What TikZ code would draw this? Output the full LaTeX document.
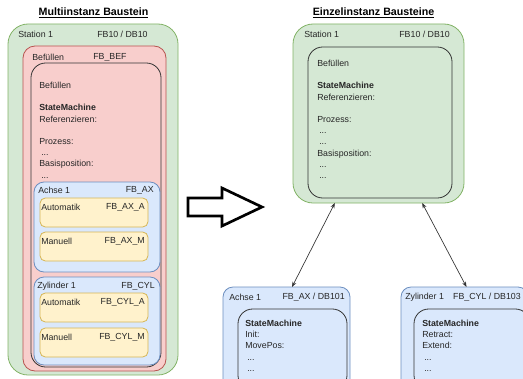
\documentclass[tikz,border=0pt]{standalone}
\usepackage{fontspec}
\setmainfont{Liberation Sans}
\usetikzlibrary{fit,calc,arrows.meta}
\definecolor{grfill}{HTML}{D5E8D4}
\definecolor{grline}{HTML}{82B366}
\definecolor{rdfill}{HTML}{F8CECC}
\definecolor{rdline}{HTML}{B85450}
\definecolor{blfill}{HTML}{DAE8FC}
\definecolor{blline}{HTML}{6C8EBF}
\definecolor{ylfill}{HTML}{FFF2CC}
\definecolor{ylline}{HTML}{D6B656}
\tikzset{box/.style={inner sep=0pt,outer sep=0pt,line width=0.6pt},
	station/.style={box,draw=grline,fill=grfill,rounded corners=15pt},
	module/.style={box,draw=rdline,fill=rdfill,rounded corners=9pt},
	unit/.style={box,draw=blline,fill=blfill,rounded corners=7.5pt},
	mode/.style={box,draw=ylline,fill=ylfill,rounded corners=4pt},
	frame/.style={box,draw=black!80,rounded corners=11pt},
	lbl/.style={font=\fontsize{6.6}{8.4}\selectfont,text=black!85,inner sep=0pt},
	txt/.style={lbl,align=left,anchor=north west},
	title/.style={font=\bfseries\fontsize{8}{9.6}\selectfont,inner sep=0pt},
	link/.style={draw=black!80,line width=0.5pt,{Stealth[length=4pt,width=3pt]}-{Stealth[length=4pt,width=3pt]}}}

\begin{document}
\begin{tikzpicture}[x=0.75pt,y=-0.75pt]
\useasboundingbox (0,0) rectangle (523,378);
\clip (0,0) rectangle (523,378);

% Multiinstanz
\node[title] (t1) at (93.5,13) {\underline{Multiinstanz Baustein}};
\node[station,fit={(8,24) (178,375)}] (st1) {};
\node[lbl,anchor=west] (st1a) at (18,34) {Station 1};
\node[lbl,anchor=west] (st1b) at (97,34) {FB10 / DB10};
\node[module,fit={(23,46) (166,371)}] (bef) {};
\node[lbl,anchor=west] (befa) at (32,57) {Befüllen};
\node[lbl,anchor=west] (befb) at (93,57) {FB\_BEF};
\node[frame,fit={(31,63) (161,367)}] (frm1) {};
\node[txt] (txt1) at (39,81.8) {Befüllen\\[8.4pt]\textbf{StateMachine}\\Referenzieren:\\[8.4pt]Prozess:\\\hspace{1.5pt}...\\Basisposition:\\\hspace{1.5pt}...};

\node[unit,fit={(34,182) (160,272)}] (ax) {};
\node[lbl,anchor=west] (axa) at (38,190) {Achse 1};
\node[lbl,anchor=east] (axb) at (154,190) {FB\_AX};
\node[unit,fit={(34,277) (160,365)}] (cyl) {};
\node[lbl,anchor=west] (cyla) at (37,286) {Zylinder 1};
\node[lbl,anchor=east] (cylb) at (155,286) {FB\_CYL};
\foreach \nm/\y/\md/\fb in {axauto/198/Automatik/FB\_AX\_A,axman/232/Manuell/FB\_AX\_M,
	cylauto/293/Automatik/FB\_CYL\_A,cylman/328/Manuell/FB\_CYL\_M} {
	\node[mode,fit={(40,\y) (148,\y+29)}] (\nm) {};
	\node[lbl,anchor=west] (\nm-a) at (41,\y+9) {\md};
	\node[lbl,anchor=east] (\nm-b) at (145,\y+9) {\fb};
};

% Pfeil
\draw[line width=2pt,miter limit=4] (188,198) -- (222,198) -- (222,188) -- (262,207)
	-- (222,226) -- (222,216) -- (188,216) -- cycle;

% Einzelinstanz
\node[title] (t2) at (373.5,13) {\underline{Einzelinstanz Bausteine}};
\node[station,fit={(293,24) (464,203)}] (st2) {};
\node[lbl,anchor=west] (st2a) at (304,34) {Station 1};
\node[lbl,anchor=east] (st2b) at (450,34) {FB10 / DB10};
\node[frame,fit={(308,47) (452,198)}] (frm2) {};
\node[txt] (txt2) at (317,59.8) {Befüllen\\[8.4pt]\textbf{StateMachine}\\Referenzieren:\\[8.4pt]Prozess:\\\hspace{1.5pt}...\\\hspace{1.5pt}...\\Basisposition:\\\hspace{1.5pt}...\\\hspace{1.5pt}...};

\node[unit,fit={(223,287) (350,395)}] (ax2) {};
\node[lbl,anchor=west] (ax2a) at (229,297) {Achse 1};
\node[lbl,anchor=east] (ax2b) at (345,297) {FB\_AX / DB101};
\node[frame,fit={(238,309) (347,390)}] (frm3) {};
\node[txt] (txt3) at (245,319.8) {\textbf{StateMachine}\\Init:\\MovePos:\\\hspace{1.5pt}...\\\hspace{1.5pt}...};

\node[unit,fit={(401,287) (528,395)}] (cyl2) {};
\node[lbl,anchor=west] (cyl2a) at (405,297) {Zylinder 1};
\node[lbl,anchor=east] (cyl2b) at (521,297) {FB\_CYL / DB103};
\node[frame,fit={(414,309) (530,390)}] (frm4) {};
\node[txt] (txt4) at (422,319.8) {\textbf{StateMachine}\\Retract:\\Extend:\\\hspace{1.5pt}...\\\hspace{1.5pt}...};

\draw[link] (st2.-116) -- ($(ax2.north)+(5.5,0)$);
\draw[link] (st2.-64) -- ($(cyl2.north)+(2,0)$);

\end{tikzpicture}
\end{document}
